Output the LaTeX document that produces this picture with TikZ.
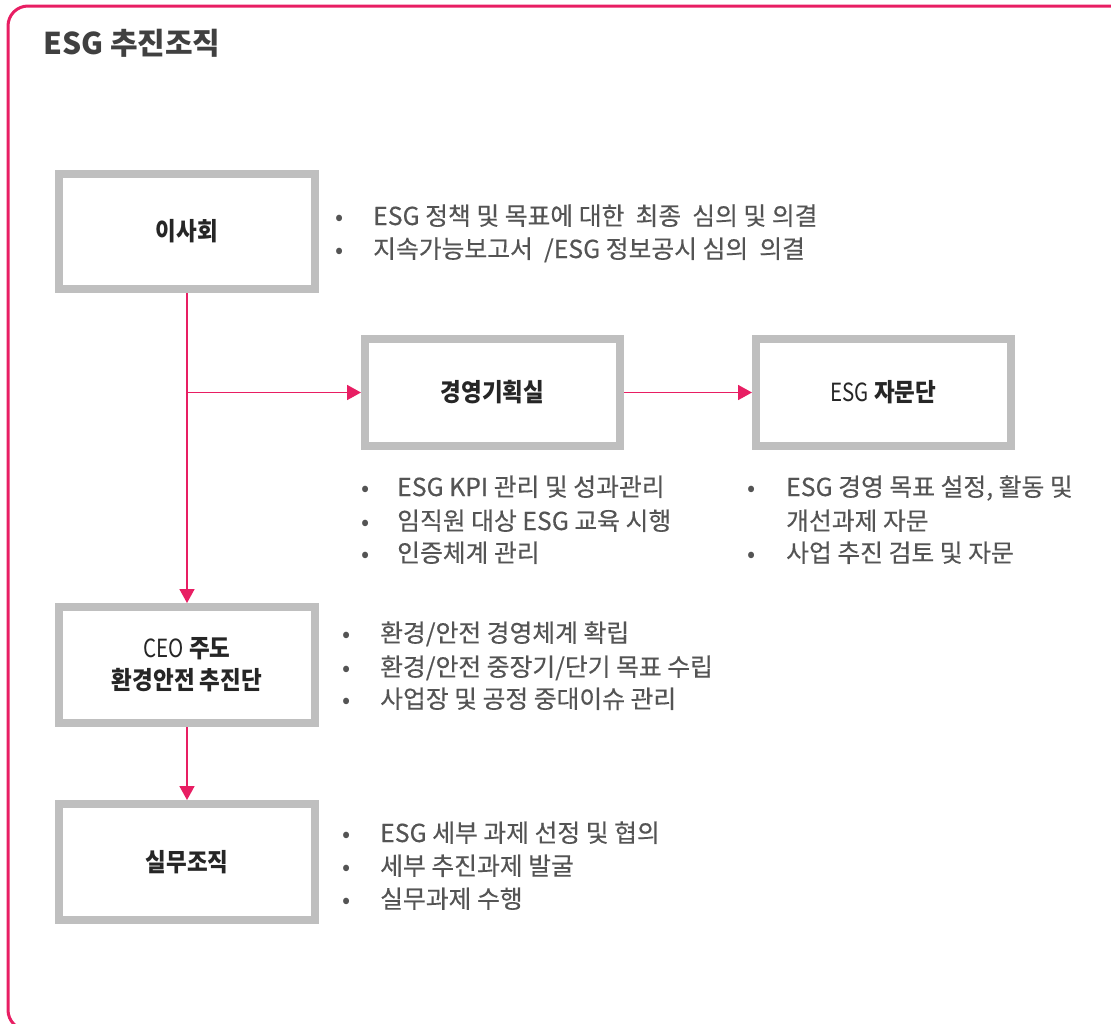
\documentclass[tikz,border=0pt]{standalone}
\usepackage{fontspec}
\setmainfont{Noto Sans CJK KR}
\newfontfamily\bodyf{Noto Sans CJK KR}[FakeBold=0.35]
\newfontfamily\lbf{Noto Sans CJK KR}[FakeStretch=0.9]
\newfontfamily\thinf{Noto Sans CJK KR}[FakeStretch=0.82]
\usetikzlibrary{arrows.meta}
\definecolor{pinkc}{RGB}{232,30,99}
\definecolor{boxgray}{RGB}{191,191,191}
\definecolor{txtgray}{RGB}{84,84,84}
\definecolor{labc}{RGB}{38,38,38}
\definecolor{titc}{RGB}{64,64,64}
\newcommand\bline[5]{%
  \node[bul,anchor=base] (#1b) at (#2,#4) {•};
  \node[btxt,anchor=base west] (#1) at (#3,#4) {#5};}
\begin{document}
\begin{tikzpicture}[x=1pt,y=-1pt,
  orgbox/.style={draw=boxgray, line width=8pt, fill=white, minimum width=256pt,
    minimum height=115pt, inner sep=0pt,
    font=\lbf\fontsize{25}{32}\selectfont\bfseries, text=labc, align=center},
  conn/.style={draw=pinkc, line width=1.8pt, -{Triangle[length=14pt,width=15pt]}},
  btxt/.style={inner sep=0pt, font=\bodyf\fontsize{24.8}{33}\selectfont, text=txtgray},
  bul/.style={inner sep=0pt, font=\fontsize{24}{33}\selectfont, text=txtgray}]
\useasboundingbox (0,0) rectangle (1111,1023);
\draw[pinkc, line width=3pt, rounded corners=20pt] (8,6) rectangle (1140,1030);

\node[anchor=base west, inner sep=0pt, font=\fontsize{30}{36}\selectfont\bfseries, text=titc] (title) at (43,54) {ESG 추진조직};

\node[orgbox] (board) at (187,231.5) {이사회};
\node[orgbox, minimum width=255pt, minimum height=107pt] (plan) at (492.5,392.5) {경영기획실};
\node[orgbox, minimum width=255pt, minimum height=107pt] (adv) at (883.5,392.5) {{\thinf\mdseries ESG} 자문단};
\node[orgbox, minimum height=116pt] (ceo) at (187,665) {{\thinf\mdseries CEO} 주도\\환경안전\ 추진단};
\node[orgbox, minimum height=116pt] (work) at (187,862) {실무조직};

\coordinate (split) at (board.south |- plan.west);
\draw[conn] (board.south) -- (ceo.north);
\draw[conn] (split) -- (plan.west);
\draw[conn] (plan.east) -- (adv.west);
\draw[conn] (ceo.south) -- (work.north);

\bline{ba}{340}{373}{225}{ESG 정책 및 목표에 대한\ \ 최종\ \ 심의 및 의결}
\bline{bb}{340}{373}{258}{지속가능보고서\ \ /ESG 정보공시 심의\ \ 의결}
\bline{pa}{366}{397}{496}{ESG KPI 관리 및 성과관리}
\bline{pb}{366}{397}{530}{임직원 대상 ESG 교육 시행}
\bline{pc}{366}{397}{562}{인증체계 관리}
\bline{aa}{752}{786}{496}{ESG 경영 목표 설정, 활동 및}
\node[btxt, anchor=base west] (ab) at (786,530) {개선과제 자문};
\bline{ac}{752}{786}{562}{사업 추진 검토 및 자문}
\bline{ca}{347}{380}{642}{환경/안전 경영체계 확립}
\bline{cb}{347}{380}{676}{환경/안전 중장기/단기 목표 수립}
\bline{cc}{347}{380}{708}{사업장 및 공정 중대이슈 관리}
\bline{wa}{347}{380}{842}{ESG 세부 과제 선정 및 협의}
\bline{wb}{347}{380}{875}{세부 추진과제 발굴}
\bline{wc}{347}{380}{908}{실무과제 수행}
\end{tikzpicture}
\end{document}
